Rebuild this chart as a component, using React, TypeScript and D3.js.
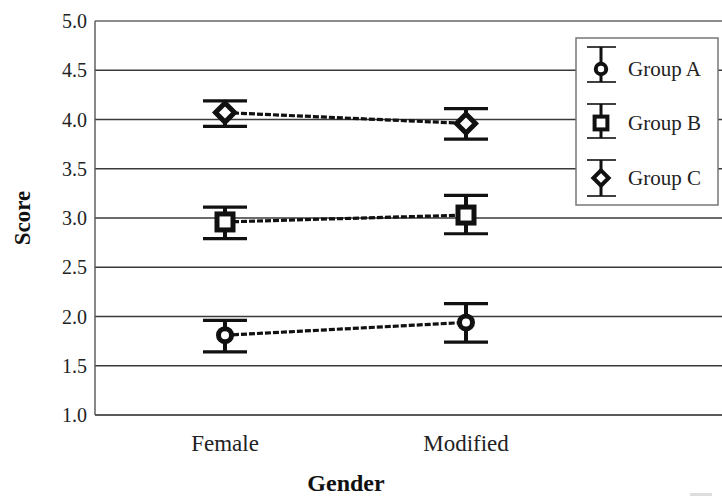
import React from 'react';
import * as d3 from 'd3';

const categories = ['Female', 'Modified'];
const groups = ['Group A', 'Group B', 'Group C'];
const shapes = ['circle', 'square', 'diamond'];
const meanA = [1.81, 1.94];
const lowA = [1.64, 1.74];
const highA = [1.96, 2.13];
const meanB = [2.96, 3.03];
const lowB = [2.79, 2.84];
const highB = [3.11, 3.23];
const meanC = [4.07, 3.96];
const lowC = [3.93, 3.8];
const highC = [4.19, 4.11];
const yTicks = [1.0, 1.5, 2.0, 2.5, 3.0, 3.5, 4.0, 4.5, 5.0];

const series = [
  { name: groups[0], shape: shapes[0], mean: meanA, low: lowA, high: highA },
  { name: groups[1], shape: shapes[1], mean: meanB, low: lowB, high: highB },
  { name: groups[2], shape: shapes[2], mean: meanC, low: lowC, high: highC },
];

const W = 722;
const H = 496;
const left = 95;
const right = 722;
const top = 21;
const bottom = 415;
const FONT = '"Liberation Serif", "Times New Roman", serif';

function Marker({ shape, x, y, s }: { shape: string; x: number; y: number; s: number }) {
  const sw = 5 * s;
  if (shape === 'circle') {
    return <circle cx={x} cy={y} r={6.5 * s} fill="#fff" stroke="#111" strokeWidth={sw} />;
  }
  if (shape === 'square') {
    const h = 8 * s;
    return <rect x={x - h} y={y - h} width={2 * h} height={2 * h} fill="#fff" stroke="#111" strokeWidth={sw} />;
  }
  const d = 9.5 * s;
  return (
    <path d={`M${x},${y - d}L${x + d},${y}L${x},${y + d}L${x - d},${y}Z`} fill="#fff" stroke="#111" strokeWidth={sw} />
  );
}

export default function App() {
  const y = d3.scaleLinear().domain([1, 5]).range([bottom, top]);
  const x = d3.scalePoint<string>().domain(categories).range([225, 466]);
  const line = d3
    .line<number>()
    .x((_, i) => x(categories[i]) as number)
    .y((d) => y(d));

  const legendItems = [69, 123, 178];
  const legendCaps = [
    [47, 82],
    [104, 138],
    [160, 196],
  ];

  return (
    <svg width={W} height={H} style={{ position: 'absolute', left: 0, top: 0, background: '#fff' }}>
      <rect x={0} y={0} width={W} height={H} fill="#fff" />
      {yTicks.map((t) => (
        <line key={t} x1={left} x2={right} y1={y(t)} y2={y(t)} stroke={t === 5 ? '#666' : '#3a3a3a'} strokeWidth={1.4} />
      ))}
      <line x1={left} x2={left} y1={top} y2={bottom} stroke="#555" strokeWidth={1.4} />
      <line x1={left} x2={right} y1={bottom} y2={bottom} stroke="#555" strokeWidth={1.6} />
      {yTicks.map((t) => (
        <text key={t} x={87} y={y(t) + 7} textAnchor="end" fontFamily={FONT} fontSize={20} fill="#222">
          {t.toFixed(1)}
        </text>
      ))}
      {categories.map((c) => (
        <text key={c} x={x(c)} y={451} textAnchor="middle" fontFamily={FONT} fontSize={23} fill="#222">
          {c}
        </text>
      ))}
      <text x={346} y={491} textAnchor="middle" fontFamily={FONT} fontSize={24} fontWeight="bold" fill="#111">
        Gender
      </text>
      <text
        transform={`translate(30,218) rotate(-90)`}
        textAnchor="middle"
        fontFamily={FONT}
        fontSize={23}
        fontWeight="bold"
        fill="#111"
      >
        Score
      </text>
      {series.map((s) => (
        <g key={s.name}>
          <path d={line(s.mean) || ''} fill="none" stroke="#111" strokeWidth={3.2} strokeDasharray="6,2" />
          {categories.map((c, i) => {
            const cx = x(c) as number;
            return (
              <g key={c}>
                <line x1={cx} x2={cx} y1={y(s.high[i])} y2={y(s.low[i])} stroke="#111" strokeWidth={4} />
                <line x1={cx - 22} x2={cx + 22} y1={y(s.high[i])} y2={y(s.high[i])} stroke="#111" strokeWidth={3.2} />
                <line x1={cx - 22} x2={cx + 22} y1={y(s.low[i])} y2={y(s.low[i])} stroke="#111" strokeWidth={3.2} />
                <Marker shape={s.shape} x={cx} y={y(s.mean[i])} s={1} />
              </g>
            );
          })}
        </g>
      ))}
      <rect x={576} y={38} width={142} height={167} fill="#fff" stroke="#777" strokeWidth={1.5} />
      {series.map((s, i) => {
        const cy = legendItems[i];
        const [t1, t2] = legendCaps[i];
        return (
          <g key={s.name}>
            <line x1={601} x2={601} y1={t1} y2={t2} stroke="#111" strokeWidth={3} />
            <line x1={587} x2={616} y1={t1} y2={t1} stroke="#111" strokeWidth={1.6} />
            <line x1={587} x2={616} y1={t2} y2={t2} stroke="#111" strokeWidth={1.6} />
            <Marker shape={s.shape} x={601} y={cy} s={0.8} />
            <text x={628} y={cy + 7} fontFamily={FONT} fontSize={21} fill="#222">
              {s.name}
            </text>
          </g>
        );
      })}
      <rect x={690} y={493} width={22} height={3} fill="#ddd" />
    </svg>
  );
}
